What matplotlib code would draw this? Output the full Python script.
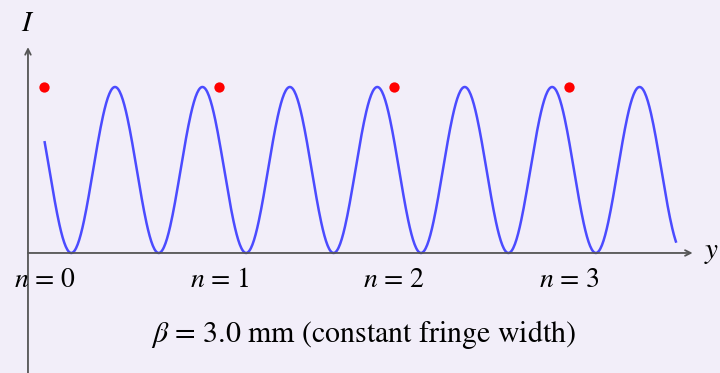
import numpy as np
import matplotlib.pyplot as plt

plt.rcParams['mathtext.fontset'] = 'stix'
plt.rcParams['font.family'] = ['STIXGeneral', 'Liberation Serif', 'DejaVu Serif']

# fringe parameters (mm)
fringe_width = 3.0
orders = [0, 1, 2, 3]
peak_offset = 1.21          # position of the first bright peak
screen_start, screen_end = 0.0, 10.84

bg = '#f2eef9'
axis_col = '#555555'

fig = plt.figure(figsize=(7.2, 3.73), dpi=100, facecolor=bg)
ax = fig.add_axes([0, 0, 1, 1])
ax.set_facecolor(bg)
ax.set_xlim(-0.763, 11.59)
ax.set_ylim(-0.723, 1.524)
ax.axis('off')

# axes drawn as arrows
ax.annotate('', xy=(11.12, 0), xytext=(-0.283, 0),
            arrowprops=dict(arrowstyle='->', color=axis_col, lw=1.3,
                            shrinkA=0, shrinkB=0, mutation_scale=10))
ax.annotate('', xy=(-0.283, 1.24), xytext=(-0.283, -0.723),
            arrowprops=dict(arrowstyle='->', color=axis_col, lw=1.3,
                            shrinkA=0, shrinkB=0, mutation_scale=10))
ax.text(-0.283, 1.375, '$I$', fontsize=21, ha='center', va='center')
ax.text(11.44, 0.0, '$y$', fontsize=21, ha='center', va='center')

# intensity pattern on the screen
y = np.linspace(screen_start, screen_end, 800)
intensity = np.cos(2 * np.pi * (y - peak_offset) / fringe_width) ** 2
ax.plot(y, intensity, color='#4b4bff', lw=1.8, solid_capstyle='butt')

# bright fringe markers and order labels
dot_pos = [n * fringe_width for n in orders]
ax.scatter(dot_pos, [1.0] * len(dot_pos), s=55, color='#ff0000', zorder=5, linewidths=0)
for n, p in zip(orders, dot_pos):
    ax.text(p, -0.165, f'$n$ = {n}', fontsize=20, ha='center', va='center')

ax.text(5.48, -0.49, rf'$\beta$ = {fringe_width:.1f} mm (constant fringe width)',
        fontsize=21.5, ha='center', va='center')

fig.savefig('out.png', dpi=100, facecolor=bg)
